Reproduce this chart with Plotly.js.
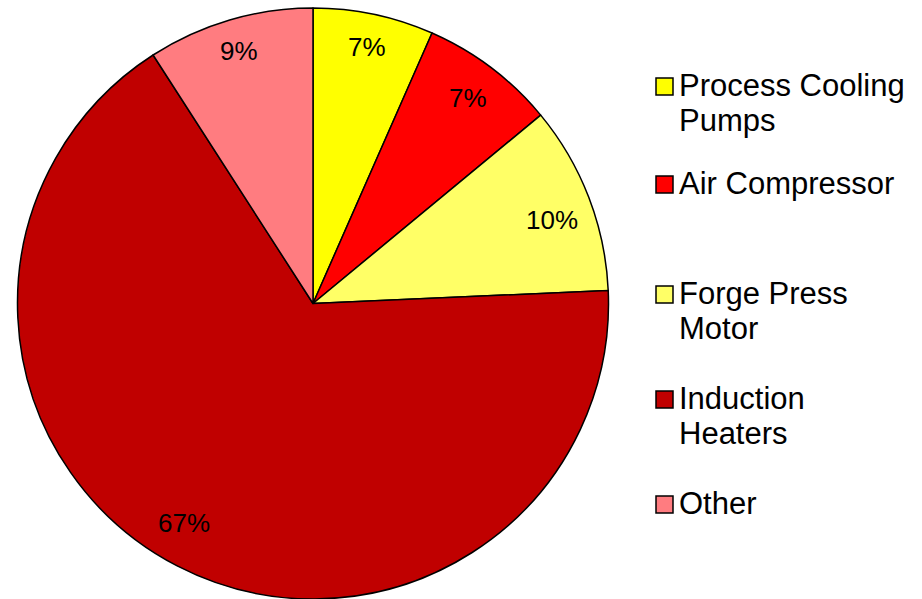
<!DOCTYPE html>
<html>
<head>
<meta charset="utf-8">
<script src="https://cdn.plot.ly/plotly-3.0.1.min.js"></script>
<style>html,body{margin:0;padding:0;background:#fff;}#chart{width:922px;height:599px;}</style>
</head>
<body>
<div id="chart"></div>
<script>
// ---- data ----
const categories = ["Process Cooling Pumps", "Air Compressor", "Forge Press Motor", "Induction Heaters", "Other"];
const legendLabels = ["Process Cooling<br>Pumps", "Air Compressor", "Forge Press<br>Motor", "Induction<br>Heaters", "Other"];
const shares = [6.6, 7.4, 10.3, 66.6, 9.1];
const sliceColors = ["#FFFF00", "#FF0000", "#FFFF66", "#C00000", "#FF7C80"];

// ---- layout constants (pixels / styling) ----
const W = 922, H = 599;
const domX = [17 / W, 609 / W];
const domY = [0, 1 - 8 / H];
const cx = (domX[0] + domX[1]) / 2 * W;
const cy = (1 - (domY[0] + domY[1]) / 2) * H;
const R = Math.min((domX[1] - domX[0]) * W, (domY[1] - domY[0]) * H) / 2;
const labelRadius = [0.887, 0.872, 0.858, 0.861, 0.889];
const labelAngleShiftDeg = [0, 0, 1.8, 3.2, 0];
const legendBaselines = [95, 193, 303, 408, 513];
const legendLineGap = 35;
const legendTextX = 677, swatchX0 = 656, swatchSize = 17;
const FONT = "Liberation Sans, Arial, sans-serif";
const legendFontSize = 31, labelFontSize = 26;

const px2x = p => p / W;
const px2y = p => 1 - p / H;

const total = shares.reduce((a, b) => a + b, 0);
const annotations = [];
const shapes = [];

// slice percentage labels
let cum = 0;
shares.forEach((v, i) => {
  const mid = (cum + v / 2) / total * 2 * Math.PI + labelAngleShiftDeg[i] * Math.PI / 180;
  cum += v;
  const x = cx + R * labelRadius[i] * Math.sin(mid);
  const y = cy - R * labelRadius[i] * Math.cos(mid);
  annotations.push({
    xref: "paper", yref: "paper", x: px2x(x), y: px2y(y),
    xanchor: "center", yanchor: "middle", showarrow: false,
    text: Math.round(v / total * 100) + "%",
    font: {family: FONT, size: labelFontSize, color: "#000"}
  });
});

// legend
legendLabels.forEach((lab, i) => {
  const b = legendBaselines[i];
  lab.split("<br>").forEach((line, j) => {
    const bl = b + j * legendLineGap;
    annotations.push({
      xref: "paper", yref: "paper", x: px2x(legendTextX), y: px2y(bl - 0.905 * legendFontSize - 1),
      xanchor: "left", yanchor: "top", align: "left", showarrow: false,
      text: line,
      font: {family: FONT, size: legendFontSize, color: "#000"}
    });
  });
  shapes.push({
    type: "rect", xref: "paper", yref: "paper",
    x0: px2x(swatchX0), x1: px2x(swatchX0 + swatchSize),
    y0: px2y(b), y1: px2y(b - swatchSize),
    fillcolor: sliceColors[i], line: {color: "#000", width: 1.5}
  });
});

const trace = {
  type: "pie",
  labels: categories,
  values: shares,
  sort: false,
  direction: "clockwise",
  rotation: 0,
  textinfo: "none",
  hoverinfo: "label+percent",
  marker: {colors: sliceColors, line: {color: "#000", width: 1.5}},
  domain: {x: domX, y: domY}
};

const layout = {
  width: W, height: H,
  margin: {l: 0, r: 0, t: 0, b: 0},
  paper_bgcolor: "#fff",
  showlegend: false,
  annotations: annotations,
  shapes: shapes,
  font: {family: FONT}
};

Plotly.newPlot("chart", [trace], layout, {displayModeBar: false, staticPlot: true});
</script>
</body>
</html>
